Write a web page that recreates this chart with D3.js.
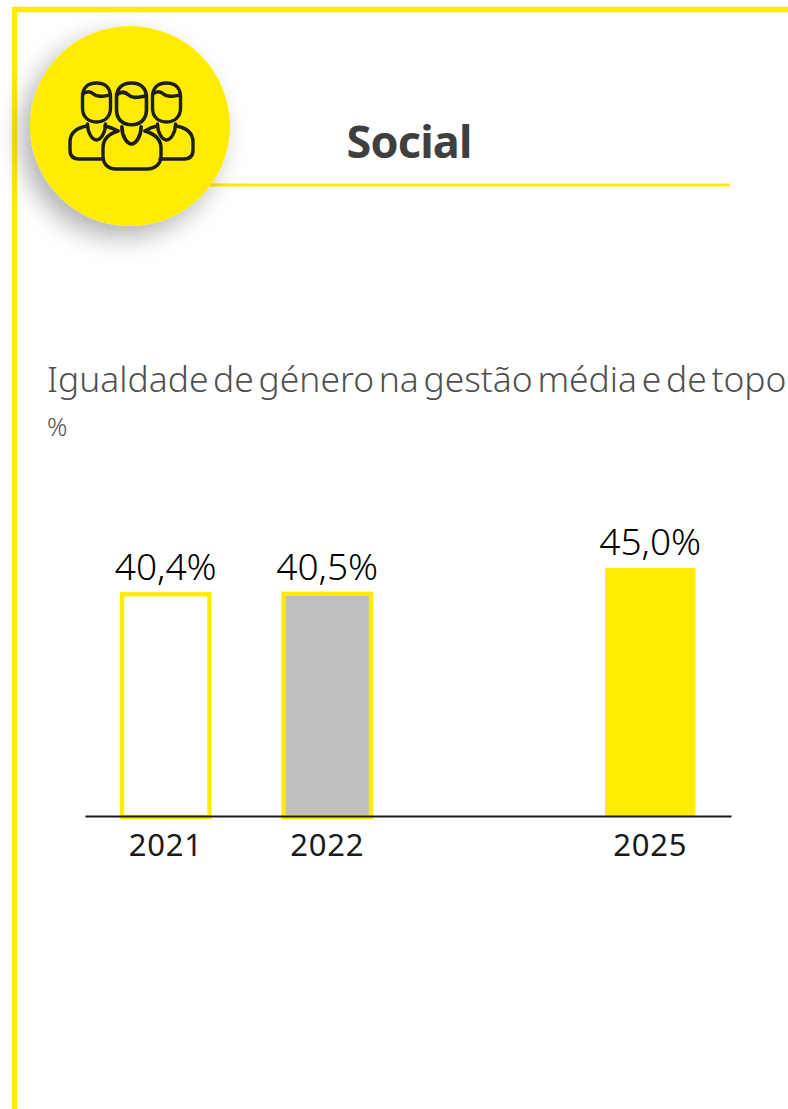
<!DOCTYPE html>
<html>
<head>
<meta charset="utf-8">
<script src="https://cdn.jsdelivr.net/npm/d3@7"></script>
<style>
  html, body { margin: 0; padding: 0; background: #fff; }
  svg { display: block; }
</style>
</head>
<body>
<div id="chart"></div>
<script>
// Data
const years = ["2021", "2022", "", "2025"];
const values = [40.4, 40.5, null, 45.0];
const valueLabels = ["40,4%", "40,5%", "", "45,0%"];
const barFills = ["#ffffff", "#bfbfbf", "none", "#ffec00"];

const yellow = "#ffec00";
const W = 788, H = 1109;

const svg = d3.select("#chart").append("svg")
  .attr("width", W)
  .attr("height", H);

// Drop shadow for the circle
const filter = svg.append("defs").append("filter")
  .attr("id", "shadow")
  .attr("x", "-40%").attr("y", "-40%")
  .attr("width", "180%").attr("height", "180%");
filter.append("feDropShadow")
  .attr("dx", -9).attr("dy", 11)
  .attr("stdDeviation", 13)
  .attr("flood-color", "#000")
  .attr("flood-opacity", 0.3);

// Frame
svg.append("path")
  .attr("d", `M14.5,${H} V9.5 H${W}`)
  .attr("fill", "none")
  .attr("stroke", yellow)
  .attr("stroke-width", 5.5);

// Header rule
svg.append("line")
  .attr("x1", 200).attr("x2", 730)
  .attr("y1", 185).attr("y2", 185)
  .attr("stroke", yellow)
  .attr("stroke-width", 3);

svg.append("circle")
  .attr("cx", 130).attr("cy", 126).attr("r", 100)
  .attr("fill", yellow)
  .attr("filter", "url(#shadow)");

// People icon
const icon = svg.append("g")
  .attr("fill", "none")
  .attr("stroke", "#1d1d1b")
  .attr("stroke-width", 3.4)
  .attr("stroke-linecap", "round")
  .attr("stroke-linejoin", "round");

function person(g, cx, top, s) {
  const p = g.append("g").attr("transform", `translate(${cx},${top}) scale(${s})`);
  // head
  p.append("path").attr("d", "M-14,14 C-14,4 -8,0 0,0 C8,0 14,4 14,14 V25 C14,34 8,39 0,39 C-8,39 -14,34 -14,25 Z");
  // hair
  p.append("path").attr("d", "M-14,11 C-10,8 -6,8 -3,11 C1,15 7,13 14,12");
  // collar
  p.append("path").attr("d", "M-9,41 C-9,50 -4,57 0,57 C4,57 9,50 9,41");
  return p;
}

// side people first, bodies are open where the front one covers them
person(icon, 96.5, 83, 1);
person(icon, 166.5, 83, 1);
icon.append("path").attr("d", "M87,126 C76,128 70,133 70,142 V150 C70,156 73,159 79,159 H103");
icon.append("path").attr("d", "M105,126 C110,127 114,129 118,131");
icon.append("path").attr("d", "M176,126 C187,128 193,133 193,142 V150 C193,156 190,159 184,159 H160");
icon.append("path").attr("d", "M157,126 C152,127 148,129 145,131");

// front person
person(icon, 131.5, 83, 1.07);
icon.append("path").attr("d", "M118,131 C108,134 103,139 103,148 V156 C103,164 108,169 116,169 H147 C155,169 161,164 161,156 V148 C161,139 155,134 145,131");

// Title texts
svg.append("text")
  .attr("x", 409).attr("y", 158)
  .attr("text-anchor", "middle")
  .style("font-family", "'Noto Sans', sans-serif")
  .style("font-weight", 700)
  .style("font-size", "45px")
  .style("letter-spacing", "-0.8px")
  .style("fill", "#3f3f3f")
  .text("Social");

svg.append("text")
  .attr("x", 47).attr("y", 392)
  .style("font-family", "'Noto Sans', sans-serif")
  .style("font-weight", 300)
  .style("font-size", "35.4px")
  .style("word-spacing", "-4.5px")
  .style("fill", "#505050")
  .text("Igualdade de género na gestão média e de topo");

svg.append("text")
  .attr("x", 47).attr("y", 436)
  .style("font-family", "'Noto Sans', sans-serif")
  .style("font-size", "25px")
  .style("font-weight", 300)
  .style("fill", "#505050")
  .text("%");

// Scales
const x = d3.scaleBand()
  .domain(years)
  .range([85, 731])
  .paddingInner(0.44)
  .paddingOuter(0.22);

const y = d3.scaleLinear()
  .domain([0, 45])
  .range([816, 568]);

const rows = years.map((year, i) => ({
  year, value: values[i], label: valueLabels[i], fill: barFills[i]
})).filter(d => d.value !== null);

// Bars
svg.selectAll(".bar")
  .data(rows)
  .enter()
  .append("rect")
  .attr("class", "bar")
  .attr("x", d => x(d.year) + (d.year === "2025" ? 0 : 1.5))
  .attr("y", d => y(d.value) + (d.year === "2025" ? 0 : 1))
  .attr("width", d => x.bandwidth() - (d.year === "2025" ? 0 : 3))
  .attr("height", d => y(0) - y(d.value) - (d.year === "2025" ? 0 : 0))
  .attr("fill", d => d.fill)
  .attr("stroke", d => d.year === "2025" ? "none" : yellow)
  .attr("stroke-width", 4.4);

// Value labels
svg.selectAll(".value")
  .data(rows)
  .enter()
  .append("text")
  .attr("class", "value")
  .attr("x", d => x(d.year) + x.bandwidth() / 2)
  .attr("y", d => y(d.value) - 13)
  .attr("text-anchor", "middle")
  .style("font-family", "'Noto Sans', sans-serif")
  .style("font-weight", 300)
  .style("font-size", "37px")
  .style("fill", "#000")
  .text(d => d.label);

// X axis
const xAxis = svg.append("g")
  .attr("transform", "translate(0,816)")
  .call(d3.axisBottom(x).tickSize(0).tickPadding(18));

xAxis.select(".domain")
  .attr("stroke", "#1a1a1a")
  .attr("stroke-width", 2);

xAxis.selectAll("text")
  .style("font-family", "'Noto Sans', sans-serif")
  .style("font-size", "31px")
  .style("letter-spacing", "0.8px")
  .style("fill", "#1a1a1a");
</script>
</body>
</html>
